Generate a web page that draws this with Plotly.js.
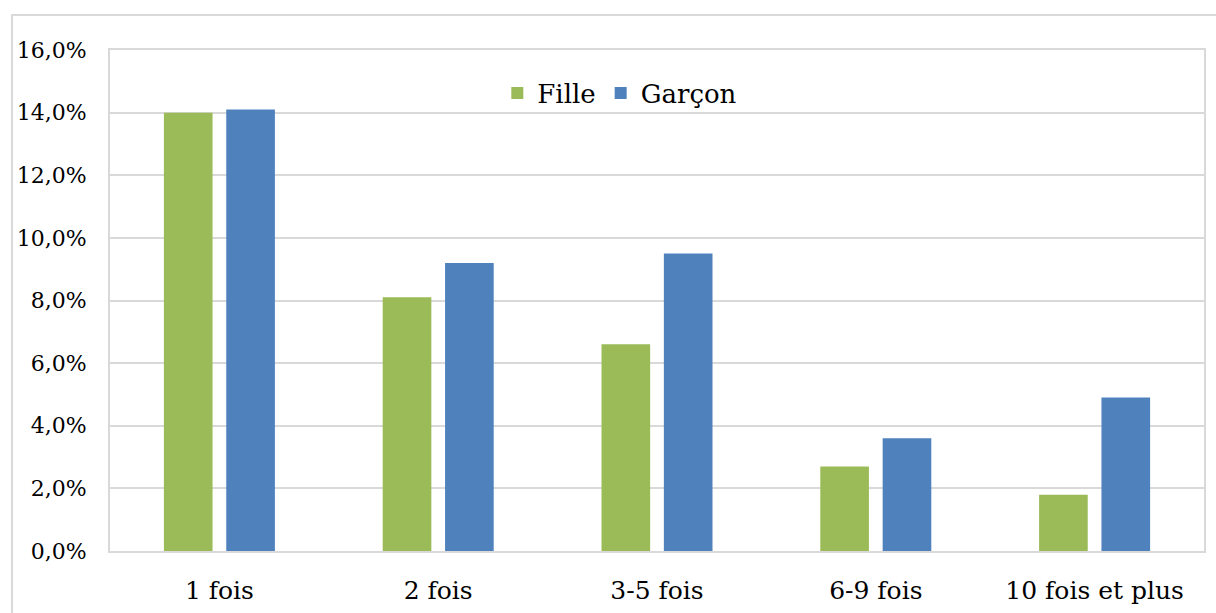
<!DOCTYPE html>
<html>
<head>
<meta charset="utf-8">
<script src="https://cdn.plot.ly/plotly-3.0.1.min.js"></script>
<style>html,body{margin:0;padding:0;background:#fff;}#chart{width:1216px;height:613px;}</style>
</head>
<body>
<div id="chart"></div>
<script>
var categories = ["1 fois", "2 fois", "3-5 fois", "6-9 fois", "10 fois et plus"];
var fille = [14.0, 8.1, 6.6, 2.7, 1.8];
var garcon = [14.1, 9.2, 9.5, 3.6, 4.9];
var seriesNames = ["Fille", "Garçon"];
var yTicks = [0, 2, 4, 6, 8, 10, 12, 14, 16];
var yTickText = yTicks.map(function (v) { return v.toFixed(1).replace(".", ",") + "%"; });

var font = "DejaVu Serif, serif";
var traces = [
  {type: "bar", name: seriesNames[0], x: categories, y: fille, marker: {color: "#9BBB59"}, hoverinfo: "none"},
  {type: "bar", name: seriesNames[1], x: categories, y: garcon, marker: {color: "#4F81BD"}, hoverinfo: "none"}
];
var layout = {
  width: 1216, height: 613,
  margin: {l: 110, r: 12, t: 50, b: 62},
  paper_bgcolor: "#ffffff", plot_bgcolor: "#ffffff",
  font: {family: font, color: "#000000"},
  barmode: "group",
  bargap: 0.43,
  bargroupgap: 0.22,
  showlegend: true,
  legend: {orientation: "h", x: 0.466, xanchor: "center", y: 0.914, yanchor: "middle",
           font: {family: font, size: 26, color: "#000"}, bgcolor: "rgba(0,0,0,0)", itemwidth: 30, tracegroupgap: 0},
  xaxis: {type: "category", showgrid: false, showline: true, linecolor: "#d9d9d9", linewidth: 2, mirror: true,
          ticks: "", tickfont: {family: font, size: 25, color: "#000"}, ticklabelstandoff: 16},
  yaxis: {range: [0, 16], tickmode: "array", tickvals: yTicks, ticktext: yTickText, showgrid: true, gridcolor: "#d9d9d9", gridwidth: 2,
          zeroline: false, showline: true, linecolor: "#d9d9d9", linewidth: 2, mirror: true,
          ticks: "", tickfont: {family: font, size: 22, color: "#000"}, ticklabelstandoff: 17},
  shapes: [
    {type: "rect", xref: "paper", yref: "paper", x0: -0.0896, x1: 1.05, y0: -0.3, y1: 1.0699,
     line: {color: "#d9d9d9", width: 2}, fillcolor: "rgba(0,0,0,0)", layer: "below"}
  ]
};
Plotly.newPlot("chart", traces, layout, {displayModeBar: false, staticPlot: true});
</script>
</body>
</html>
